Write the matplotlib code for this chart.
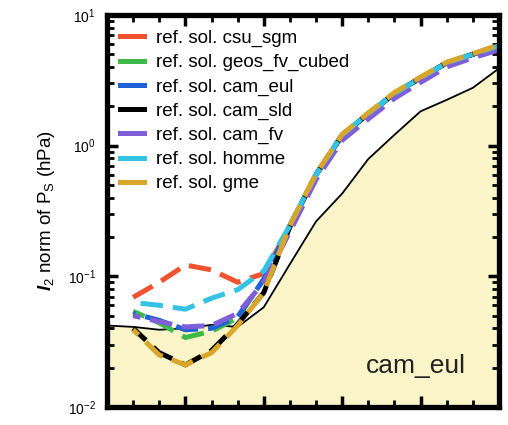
import matplotlib
matplotlib.use("Agg")
import matplotlib.pyplot as plt
from matplotlib.ticker import LogLocator, MultipleLocator, NullFormatter

plt.rcParams['font.family'] = ['Liberation Sans', 'DejaVu Sans']
plt.rcParams['mathtext.fontset'] = 'custom'
plt.rcParams['mathtext.rm'] = 'Liberation Sans'
plt.rcParams['mathtext.it'] = 'Liberation Sans:italic'
plt.rcParams['mathtext.bf'] = 'Liberation Sans:bold'
plt.rcParams['mathtext.bfit'] = 'Liberation Sans:italic:bold'

# reference solution (solid black, filled below) - days 0..15
days_ref = list(range(0, 16))
ref_cam_eul = [0.042, 0.041, 0.039, 0.040, 0.0425, 0.041, 0.058, 0.124,
               0.263, 0.43, 0.79, 1.21, 1.83, 2.24, 2.77, 3.9]

# model reference solutions - days 1..15
days = list(range(1, 16))
csu_sgm = [0.069, 0.090, 0.122, 0.112, 0.090, 0.105, 0.24, 0.60, 1.20,
           1.75, 2.5, 3.3, 4.3, 5.0, 5.8]
geos_fv_cubed = [0.054, 0.044, 0.034, 0.038, 0.048, 0.095, 0.245, 0.60, 1.21,
                 1.76, 2.5, 3.3, 4.3, 5.0, 5.9]
cam_eul = [0.052, 0.046, 0.039, 0.040, 0.049, 0.095, 0.245, 0.60, 1.21,
           1.75, 2.5, 3.3, 4.3, 5.0, 5.8]
cam_sld = [0.040, 0.026, 0.021, 0.027, 0.043, 0.075, 0.24, 0.60, 1.20,
           1.75, 2.5, 3.3, 4.3, 5.0, 5.8]
cam_fv = [0.050, 0.045, 0.041, 0.042, 0.052, 0.090, 0.22, 0.55, 1.10,
          1.60, 2.3, 3.05, 4.0, 4.7, 5.4]
homme = [0.063, 0.060, 0.056, 0.068, 0.079, 0.110, 0.245, 0.60, 1.21,
         1.76, 2.5, 3.3, 4.3, 5.0, 5.8]
gme = [0.039, 0.025, 0.021, 0.026, 0.042, 0.075, 0.245, 0.61, 1.22,
       1.78, 2.55, 3.35, 4.35, 5.05, 5.9]

series = [
    ('ref. sol. csu_sgm', csu_sgm, '#f0522e', 0),
    ('ref. sol. geos_fv_cubed', geos_fv_cubed, '#3dba48', 2),
    ('ref. sol. cam_eul', cam_eul, '#1f62d6', 4),
    ('ref. sol. cam_sld', cam_sld, '#000000', 1),
    ('ref. sol. cam_fv', cam_fv, '#7f5fd8', 3),
    ('ref. sol. homme', homme, '#35c3e3', 5),
    ('ref. sol. gme', gme, '#d9a62c', 3),
]

fig = plt.figure(figsize=(5.08, 4.25), dpi=100)
ax = fig.add_axes([0.2106, 0.0424, 0.7716, 0.9224])

ax.fill_between(days_ref, 1e-2, ref_cam_eul, color='#faf4c8', lw=0, zorder=0)
ax.plot(days_ref, ref_cam_eul, color='black', lw=1.3, zorder=1)

for label, vals, col, off in series:
    ax.plot(days, vals, color=col, lw=3.6, linestyle=(off, (4.5, 2)),
            label=label, zorder=2)

ax.set_yscale('log')
ax.set_ylim(1e-2, 1e1)
ax.set_xlim(0, 15)

ax.xaxis.set_major_locator(MultipleLocator(3))
ax.xaxis.set_minor_locator(MultipleLocator(1))
ax.xaxis.set_major_formatter(NullFormatter())
ax.yaxis.set_major_locator(LogLocator(base=10, numticks=10))
ax.yaxis.set_minor_locator(LogLocator(base=10, subs=range(2, 10), numticks=10))
ax.yaxis.set_minor_formatter(NullFormatter())

ax.tick_params(which='both', direction='in', top=True, right=True, color='black')
ax.tick_params(which='major', length=8, width=2.5, labelsize=10, pad=8)
ax.tick_params(which='minor', length=5, width=2.0)
for sp in ax.spines.values():
    sp.set_linewidth(3.8)

ax.set_ylabel(r'$\mathbfit{l}_2$ norm of P$_\mathrm{S}$ (hPa)', fontsize=13.5, labelpad=8)

ax.text(0.915, 0.105, 'cam_eul', transform=ax.transAxes, fontsize=19,
        ha='right', va='center', color='#222222')

leg = ax.legend(loc='upper left', bbox_to_anchor=(0.033, 0.962), frameon=False,
                fontsize=13.5, handlelength=1.3, handletextpad=0.65,
                labelspacing=0.37, borderaxespad=0, borderpad=0)
for h in leg.get_lines():
    h.set_linestyle('-')

fig.savefig('out.png', dpi=100)
